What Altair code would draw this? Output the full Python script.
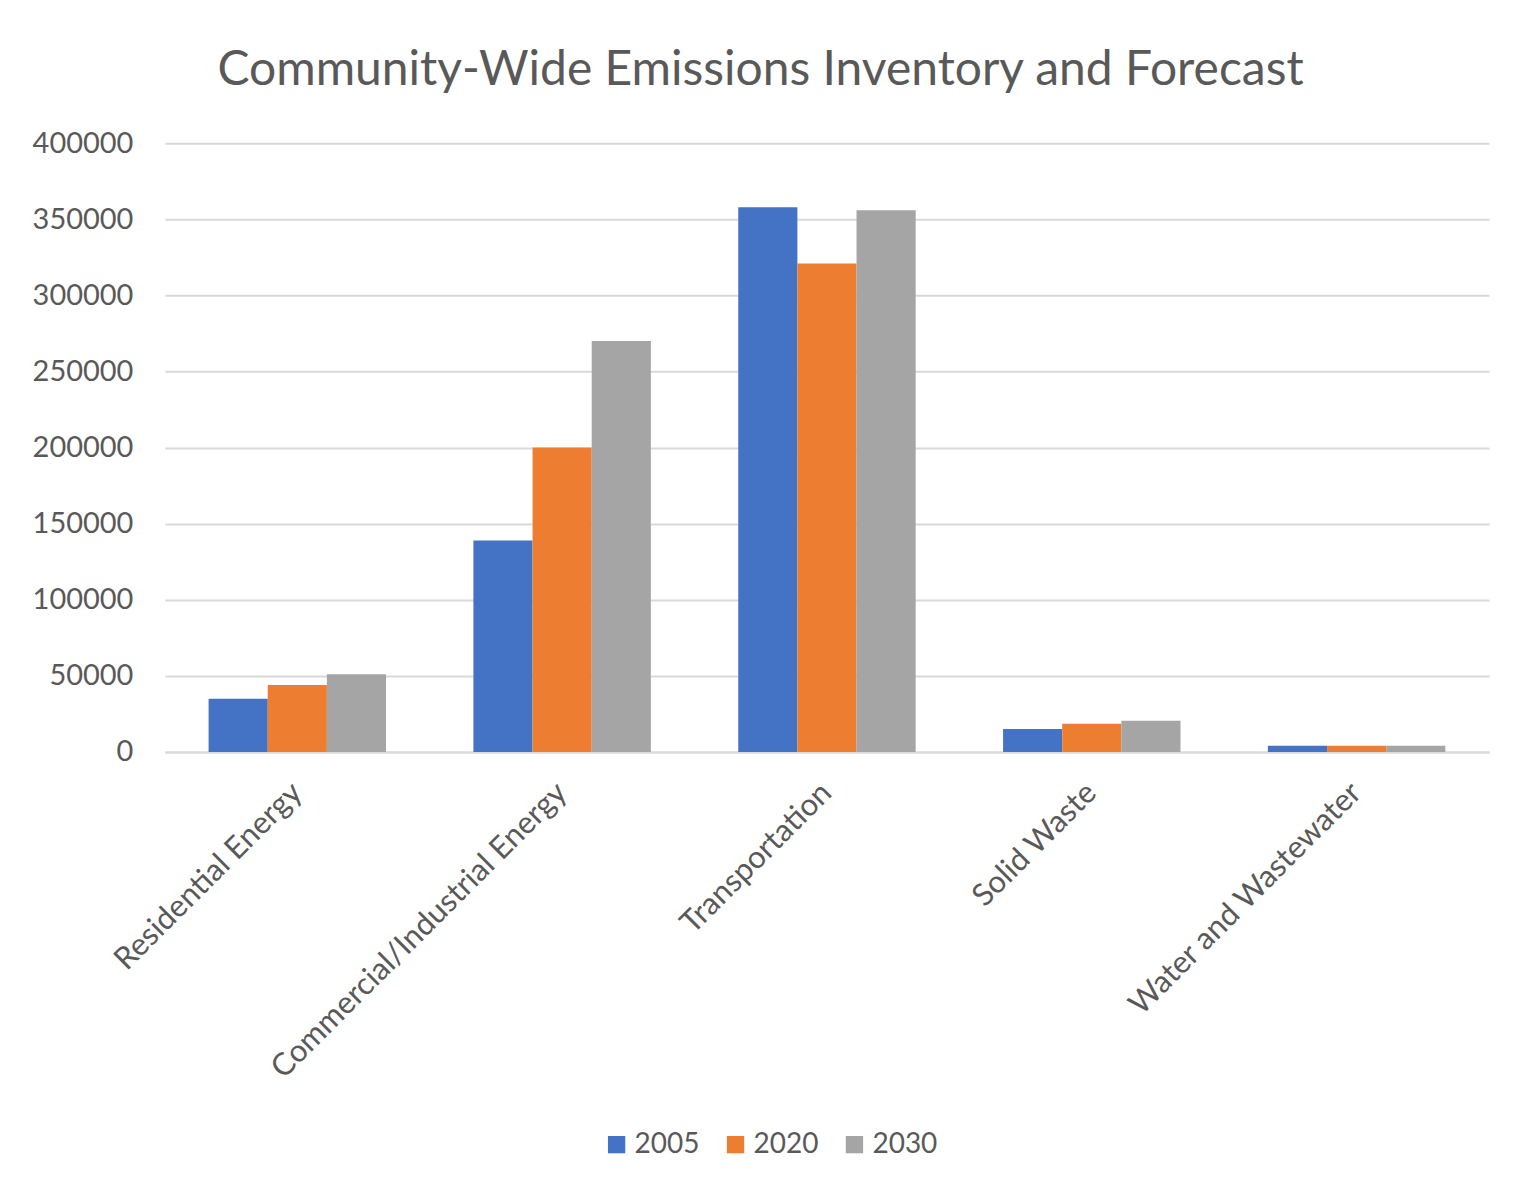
import altair as alt
import pandas as pd

categories = ["Residential Energy", "Commercial/Industrial Energy", "Transportation", "Solid Waste", "Water and Wastewater"]
years = ["2005", "2020", "2030"]
values_2005 = [35000, 139000, 358000, 15000, 4000]
values_2020 = [44000, 200000, 321000, 18500, 4000]
values_2030 = [51000, 270000, 356000, 20500, 4000]
colors = ["#4472C4", "#ED7D31", "#A5A5A5"]

rows = []
for yr, vals in zip(years, [values_2005, values_2020, values_2030]):
    for c, v in zip(categories, vals):
        rows.append({"category": c, "year": yr, "value": v})
df = pd.DataFrame(rows)

FONT = "Lato"
GRAY = "#595959"

chart = alt.Chart(df).mark_bar().encode(
    x=alt.X("category:N", sort=categories,
            scale=alt.Scale(paddingInner=0.33, paddingOuter=0.165),
            axis=alt.Axis(title=None, labelAngle=-45, labelAlign="right", labelBaseline="middle",
                          labelPadding=36, labelFontSize=31, labelColor=GRAY, labelFont=FONT,
                          ticks=False, domainColor="#d9d9d9", domainWidth=2, labelLimit=600)),
    xOffset=alt.XOffset("year:N", sort=years),
    y=alt.Y("value:Q", scale=alt.Scale(domain=[0, 400000]),
            axis=alt.Axis(title=None, values=[0, 50000, 100000, 150000, 200000, 250000, 300000, 350000, 400000],
                          format="d", labelFontSize=29, labelColor=GRAY, labelFont=FONT,
                          labelPadding=32, ticks=False, domain=False,
                          gridColor="#d9d9d9", gridWidth=2)),
    color=alt.Color("year:N", sort=years, scale=alt.Scale(domain=years, range=colors),
                    legend=alt.Legend(title=None, orient="none", direction="horizontal",
                                      legendX=438, legendY=988,
                                      symbolType="square", symbolSize=300, symbolStrokeWidth=0,
                                      labelFontSize=28, labelColor=GRAY, labelFont=FONT,
                                      columnPadding=22, symbolOffset=0)),
).properties(
    width=1325, height=609,
    background="white",
    padding={"left": 24, "top": 39, "right": 40, "bottom": 20},
    title=alt.TitleParams("Community-Wide Emissions Inventory and Forecast", fontSize=48,
                          font=FONT, fontWeight="normal", color=GRAY, anchor="middle",
                          frame="bounds", offset=34),
).configure_view(stroke=None)

chart.save("out.html", embed_options={"renderer": "svg", "actions": False})
